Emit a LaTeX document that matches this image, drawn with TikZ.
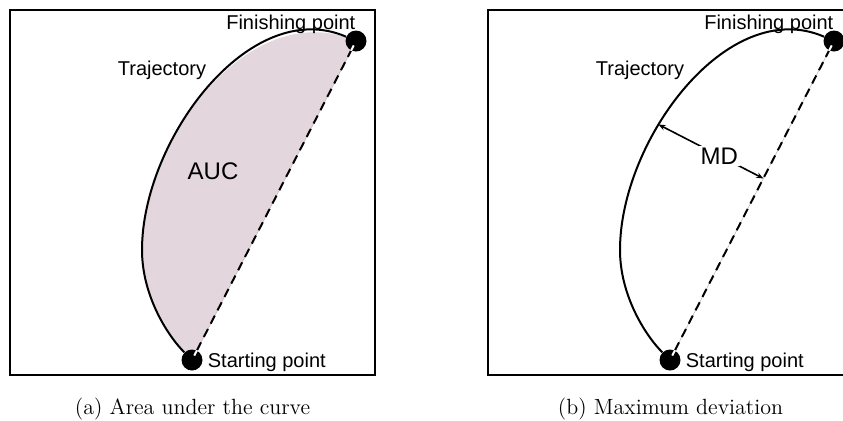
\documentclass[tikz,border=0pt]{standalone}
\usepackage{fontspec}
\newfontfamily\arialfont{Liberation Sans}
\usetikzlibrary{arrows.meta, positioning, calc, backgrounds}
\definecolor{aucpink}{RGB}{227,214,221}

\begin{document}
\begin{tikzpicture}[
    x=0.5pt, y=-0.5pt,
    frame/.style={rectangle, draw, line width=1pt, minimum width=182.5pt, minimum height=182.5pt, inner sep=0pt},
    dot/.style={circle, fill=black, minimum size=10.5pt, inner sep=0pt},
    tag/.style={font=\arialfont\fontsize{10}{12}\selectfont, inner sep=0pt},
    bigtag/.style={font=\arialfont\fontsize{12}{14}\selectfont, inner sep=1pt},
    caption/.style={font=\fontsize{11}{13}\selectfont, inner sep=0pt},
    traj/.style={draw, line width=1pt},
    chord/.style={draw, line width=1pt, dash pattern=on 4.5pt off 3pt},
    guide/.style={draw, gray!50, line width=0.3pt},
    notch/.style={draw, white, line width=1pt},
    md/.style={draw, line width=0.8pt, {Stealth[length=3.5pt,width=2.8pt]}-{Stealth[length=3.5pt,width=2.8pt]}}
]
\clip (0,0) rectangle (843,420);

% (a) Area under the curve
\node[frame] (frameA) at (192.5,192.5) {};
\node[dot] (startA) at (192,360) {};
\node[dot] (finishA) at (356,41) {};
\coordinate (leftA) at (142,250);
\coordinate (c1A) at (167,335);
\coordinate (c2A) at (142,295);
\coordinate (c3A) at (142,140);
\coordinate (c4A) at (250,-5);

\begin{scope}[on background layer]
    \fill[aucpink] (startA.center) .. controls (c1A) and (c2A) .. (leftA) .. controls (c3A) and (c4A) .. (finishA.center) -- cycle;
\end{scope}

\path[guide] (startA) -- (finishA);
\path[chord] (startA) -- (finishA);
\path[traj] (startA) .. controls (c1A) and (c2A) .. (leftA) .. controls (c3A) and (c4A) .. (finishA);
\path[notch] ($(startA)!2.5pt!(finishA)$) -- ($(startA)!5.5pt!(finishA)$);
\path[notch] ($(finishA)!2.5pt!(startA)$) -- ($(finishA)!5.5pt!(startA)$);

\node[tag, above left=-0.5pt and -3.7pt of finishA] (finishtagA) {Finishing point};
\node[tag, right=2.3pt of startA, yshift=-1.2pt] (starttagA) {Starting point};
\node[tag] (trajtagA) at (162,70) {Trajectory};
\node[bigtag] (auc) at (213,171) {AUC};
\node[caption, below=10.6pt of frameA] (captionA) {(a) Area under the curve};

% (b) Maximum deviation
\begin{scope}[xshift=239pt]
\node[frame] (frameB) at (192.5,192.5) {};
\node[dot] (startB) at (192,360) {};
\node[dot] (finishB) at (356,41) {};
\coordinate (leftB) at (142,250);
\coordinate (c1B) at (167,335);
\coordinate (c2B) at (142,295);
\coordinate (c3B) at (142,140);
\coordinate (c4B) at (250,-5);

\path[guide] (startB) -- (finishB);
\path[chord] (startB) -- (finishB);
\path[traj] (startB) .. controls (c1B) and (c2B) .. (leftB) .. controls (c3B) and (c4B) .. (finishB);
\path[notch] ($(startB)!2.5pt!(finishB)$) -- ($(startB)!5.5pt!(finishB)$);
\path[notch] ($(finishB)!2.5pt!(startB)$) -- ($(finishB)!5.5pt!(startB)$);

\coordinate (mdtopB) at (180.5,124.5);
\coordinate (mdfootB) at ($(startB)!(mdtopB)!(finishB)$);
\path[md] (mdtopB) -- node[bigtag, fill=white, pos=0.58] (mdB) {MD} (mdfootB);

\node[tag, above left=-0.5pt and -3.7pt of finishB] (finishtagB) {Finishing point};
\node[tag, right=2.3pt of startB, yshift=-1.2pt] (starttagB) {Starting point};
\node[tag] (trajtagB) at (162,70) {Trajectory};
\node[caption, below=10.6pt of frameB] (captionB) {(b) Maximum deviation};
\end{scope}

\end{tikzpicture}
\end{document}
